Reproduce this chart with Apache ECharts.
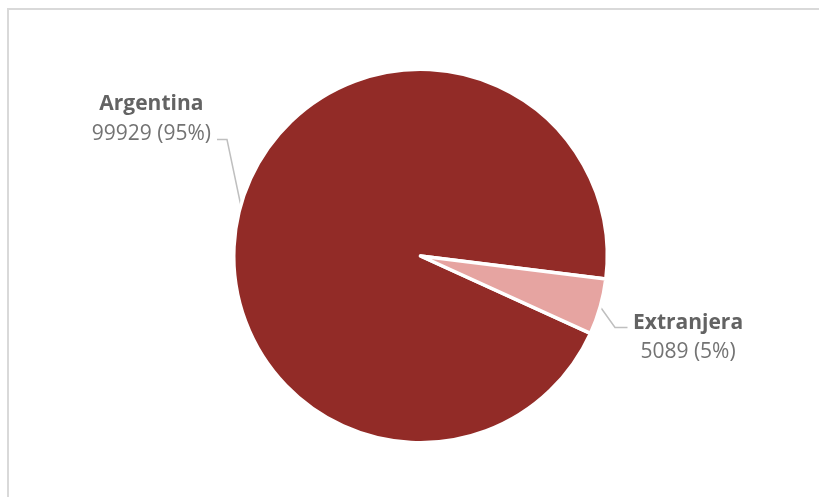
<!DOCTYPE html>
<html>
<head>
<meta charset="utf-8">
<title>Nacionalidad</title>
<script src="https://cdn.jsdelivr.net/npm/echarts@6/dist/echarts.min.js"></script>
<style>
  html, body { margin: 0; padding: 0; background: #ffffff; }
  #chart { width: 819px; height: 497px; }
</style>
</head>
<body>
<div id="chart"></div>
<script>
// Categories and counts
const categories = ['Argentina', 'Extranjera'];
const values = [99929, 5089];
const sliceColors = ['#922B27', '#E6A4A1'];

// Where each outside label sits and where its leader line bends
const labelSpots = [
  { x: 211, y: 119, align: 'right', bend: [227, 139.5], end: [217, 139.5] },
  { x: 633, y: 337.5, align: 'left', bend: [615, 327.5], end: [627.5, 327.5] }
];

const chart = echarts.init(document.getElementById('chart'), null, { renderer: 'canvas' });

const pieData = categories.map((name, i) => ({
  name: name,
  value: values[i],
  itemStyle: { color: sliceColors[i] }
}));

chart.setOption({
  animation: false,
  backgroundColor: '#ffffff',
  graphic: [{
    type: 'rect',
    silent: true,
    shape: { x: 8, y: 9, width: 840, height: 520 },
    style: { fill: 'none', stroke: '#d9d9d9', lineWidth: 2 }
  }],
  series: [{
    type: 'pie',
    center: [420.5, 256],
    radius: 186.75,
    startAngle: -24.5,
    clockwise: true,
    avoidLabelOverlap: false,
    itemStyle: { borderColor: '#ffffff', borderWidth: 3.5 },
    emphasis: { disabled: true },
    label: {
      show: true,
      position: 'outside',
      fontFamily: '"Open Sans", sans-serif',
      fontSize: 21,
      formatter: p => '{n|' + p.name + '}\n{v|' + p.value + ' (' + Math.round(p.percent) + '%)}',
      rich: {
        n: { fontFamily: '"Open Sans", sans-serif', fontSize: 21, fontWeight: 'bold', color: '#636363', lineHeight: 29.5, align: 'center' },
        v: { fontFamily: '"Open Sans", sans-serif', fontSize: 21, color: '#737373', lineHeight: 29.5, align: 'center' }
      }
    },
    labelLine: {
      show: true,
      length: 15,
      length2: 10,
      lineStyle: { color: '#bfbfbf', width: 1.5 }
    },
    labelLayout: params => {
      const spot = labelSpots[params.dataIndex];
      const pts = params.labelLinePoints;
      const start = pts && pts.length ? pts[0] : spot.bend;
      return {
        x: spot.x,
        y: spot.y,
        align: spot.align,
        verticalAlign: 'middle',
        labelLinePoints: [start, spot.bend, spot.end]
      };
    },
    data: pieData
  }]
});
</script>
</body>
</html>
